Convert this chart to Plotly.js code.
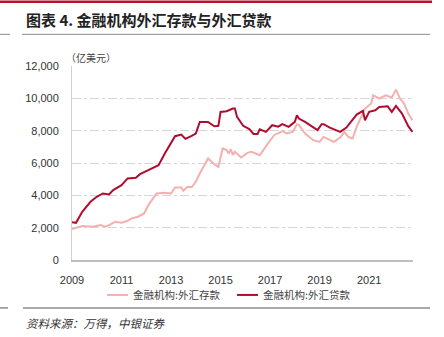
<!DOCTYPE html>
<html>
<head>
<meta charset="utf-8">
<script src="https://cdn.plot.ly/plotly-3.0.1.min.js"></script>
<style>html,body{margin:0;padding:0;background:#fff;}#chart{width:444px;height:337px;}</style>
</head>
<body>
<div id="chart"></div>
<script>
// 金融机构:外汇贷款 (亿美元)
const loanDates = ['2009-01','2009-03','2009-06','2009-10','2010-01','2010-04','2010-07','2010-09','2011-01','2011-04','2011-08','2011-10','2012-02','2012-07','2012-10','2013-03','2013-06','2013-08','2013-11','2014-01','2014-03','2014-07','2014-10','2014-12','2015-01','2015-04','2015-07','2015-08','2015-09','2015-12','2016-03','2016-05','2016-07','2016-08','2016-11','2017-02','2017-05','2017-07','2017-10','2018-01','2018-02','2018-03','2018-06','2018-10','2018-12','2019-02','2019-03','2019-06','2019-08','2019-11','2020-02','2020-04','2020-07','2020-10','2020-11','2021-01','2021-04','2021-06','2021-10','2021-12','2022-02','2022-05','2022-08','2022-10'];
const loanValues = [2330,2300,2983,3600,3910,4117,4057,4323,4632,5045,5085,5311,5558,5867,6590,7658,7763,7492,7677,7825,8543,8543,8276,8300,9160,9202,9369,9369,8850,8300,8100,7800,7800,8090,7925,8338,8250,8400,8234,8543,8955,8750,8543,8234,8030,8400,8400,8193,8090,7925,8193,8543,8996,9222,8646,9160,9264,9470,9511,9160,9532,9058,8276,7925];
// 金融机构:外汇存款 (亿美元)
const depDates = ['2009-01','2009-06','2009-11','2010-03','2010-05','2010-07','2010-10','2011-01','2011-04','2011-06','2011-09','2011-12','2012-02','2012-06','2012-10','2013-01','2013-03','2013-06','2013-07','2013-09','2013-11','2014-01','2014-03','2014-07','2014-10','2014-12','2015-02','2015-04','2015-05','2015-06','2015-07','2015-08','2015-11','2016-02','2016-04','2016-08','2016-12','2017-03','2017-07','2017-09','2017-12','2018-02','2018-03','2018-06','2018-10','2019-01','2019-03','2019-06','2019-08','2019-11','2020-01','2020-03','2020-05','2020-07','2020-11','2021-02','2021-03','2021-06','2021-09','2021-12','2022-02','2022-04','2022-06','2022-08','2022-10'];
const depValues = [1915,2100,2058,2160,2058,2160,2365,2305,2428,2573,2676,2882,3397,4117,4159,4117,4488,4488,4282,4529,4500,4838,5353,6281,5929,5764,6898,6794,6590,6850,6500,6690,6343,6627,6690,6485,7207,7720,7967,7825,7925,8400,8350,7825,7411,7306,7615,7452,7306,7575,7925,7615,7513,8234,9369,9677,10190,9986,10190,10050,10540,9986,9677,9058,8646];
const seriesNames = ['金融机构:外汇存款','金融机构:外汇贷款'];
const xTickVals = ['2009-01-01','2011-01-01','2013-01-01','2015-01-01','2017-01-01','2019-01-01','2021-01-01'];
const xTickText = ['2009','2011','2013','2015','2017','2019','2021'];
const yTickVals = [0,2000,4000,6000,8000,10000,12000];

const depColor = '#f2b1ae';
const loanColor = '#b10c2e';
const cjk = '"Noto Sans CJK SC", sans-serif';

const traces = [
  {x: depDates, y: depValues, type: 'scatter', mode: 'lines', name: seriesNames[0],
   line: {color: depColor, width: 2}, showlegend: false},
  {x: loanDates, y: loanValues, type: 'scatter', mode: 'lines', name: seriesNames[1],
   line: {color: loanColor, width: 2}, showlegend: false}
];

// plot area: x 72..413, y 65.7..260
const L = 72, R = 413, T = 65.7, B = 260;
const px = v => (v - L) / (R - L);
const py = v => (B - v) / (B - T);

const layout = {
  width: 444, height: 337,
  margin: {l: L, r: 444 - R, t: T, b: 337 - B},
  paper_bgcolor: '#fff', plot_bgcolor: '#fff',
  font: {family: '"Liberation Sans", Arial, sans-serif', size: 11, color: '#333'},
  title: {text: '图表 4. 金融机构外汇存款与外汇贷款', x: 26/444, xanchor: 'left', xref: 'container',
          y: 1 - 21/337, yanchor: 'middle', yref: 'container',
          font: {family: cjk, size: 15, color: '#222', weight: 'bold'}},
  xaxis: {type: 'date', range: ['2009-01-01', '2022-10-10'], tickvals: xTickVals, ticktext: xTickText,
          showgrid: false, zeroline: false, showline: true, linecolor: '#bfbfbf', linewidth: 1.5,
          ticks: 'outside', ticklen: 9, tickcolor: 'rgba(0,0,0,0)', tickfont: {size: 11, color: '#333'},
          fixedrange: true},
  yaxis: {range: [0, 12000], tickvals: yTickVals, tickformat: ',d', showgrid: true,
          gridcolor: '#d6d6d6', griddash: 'dashdot', gridwidth: 1, zeroline: false,
          showline: true, linecolor: '#d0d0d0', linewidth: 1,
          ticks: 'outside', ticklen: 10, tickcolor: 'rgba(0,0,0,0)', tickfont: {size: 11, color: '#333'},
          fixedrange: true},
  shapes: [
    {type: 'rect', xref: 'paper', yref: 'paper', x0: px(0), x1: px(432), y0: py(0), y1: py(2.7),
     fillcolor: '#b5152b', line: {width: 0}},
    {type: 'line', xref: 'paper', yref: 'paper', x0: px(22), x1: px(430), y0: py(34), y1: py(34),
     line: {color: '#8c8c8c', width: 1}},
    {type: 'line', xref: 'paper', yref: 'paper', x0: px(0), x1: px(10), y0: py(34), y1: py(34),
     line: {color: '#8c8c8c', width: 1}},
    {type: 'line', xref: 'paper', yref: 'paper', x0: px(23), x1: px(430), y0: py(308), y1: py(308),
     line: {color: '#8c8c8c', width: 1.5}},
    {type: 'line', xref: 'paper', yref: 'paper', x0: px(0), x1: px(8), y0: py(308), y1: py(308),
     line: {color: '#8c8c8c', width: 1.5}},
    {type: 'line', xref: 'paper', yref: 'paper', x0: px(107), x1: px(128), y0: py(295), y1: py(295),
     line: {color: depColor, width: 2}},
    {type: 'line', xref: 'paper', yref: 'paper', x0: px(237), x1: px(258), y0: py(295), y1: py(295),
     line: {color: loanColor, width: 2}}
  ],
  annotations: [
    {text: '（亿美元）', xref: 'paper', yref: 'paper', x: px(64), y: py(57), xanchor: 'left', yanchor: 'middle',
     showarrow: false, font: {family: cjk, size: 10, color: '#444'}},
    {text: seriesNames[0], xref: 'paper', yref: 'paper', x: px(131), y: py(295), xanchor: 'left', yanchor: 'middle',
     showarrow: false, font: {family: cjk, size: 10.5, color: '#444'}},
    {text: seriesNames[1], xref: 'paper', yref: 'paper', x: px(261), y: py(295), xanchor: 'left', yanchor: 'middle',
     showarrow: false, font: {family: cjk, size: 10.5, color: '#444'}},
    {text: '<i>资料来源：万得，中银证券</i>', xref: 'paper', yref: 'paper', x: px(24), y: py(323), xanchor: 'left', yanchor: 'middle',
     showarrow: false, font: {family: cjk, size: 11.5, color: '#333'}}
  ]
};

Plotly.newPlot('chart', traces, layout, {displayModeBar: false, staticPlot: true});
</script>
</body>
</html>
